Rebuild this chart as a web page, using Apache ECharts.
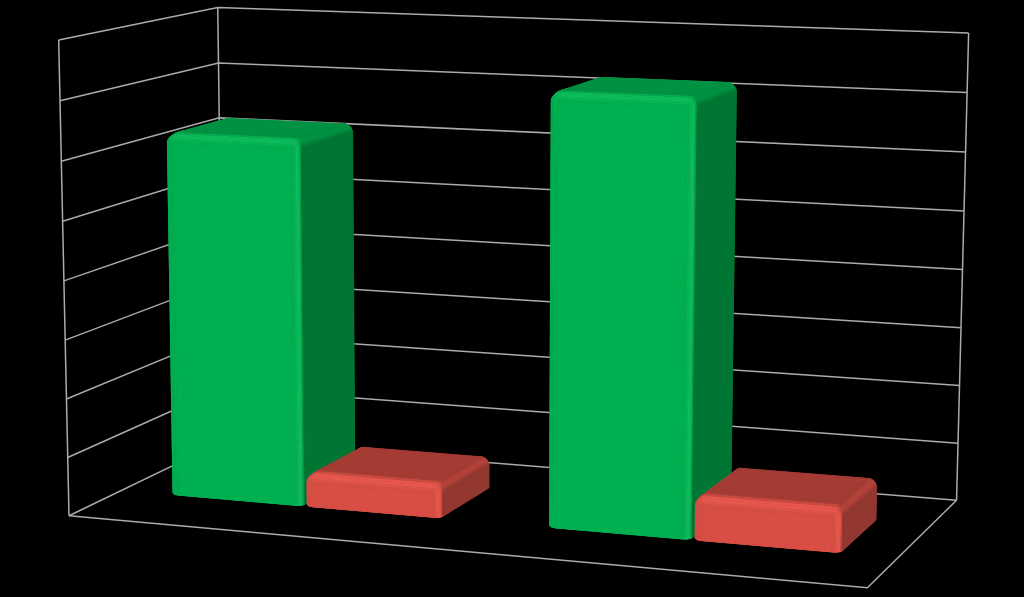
<!DOCTYPE html>
<html><head><meta charset="utf-8">
<style>html,body{margin:0;background:#000}#c{width:1024px;height:597px}</style>
<script src="https://cdn.jsdelivr.net/npm/echarts@6/dist/echarts.min.js"></script></head>
<body><div id="c"></div>
<script>
const categories=['1','2'];
const greenValues=[6.27,7.25];
const redValues=[0.58,0.74];
const gridTicks=[0,1,2,3,4,5,6,7,8];

// Camera calibration: world (X 0..1, Y in axis units, Z 0..1) -> screen
const anchors=[[0,8,0,58,39.5],[0,0,0,70,516],[0,8,1,218.5,8],[0,0,1,222.5,441],[1,8,1,968.5,33],[1,0,1,957,500],[1,0,0,867,588]];
function solve(A,b){const n=b.length;const M=A.map((r,i)=>r.concat(b[i]));for(let c=0;c<n;c++){let p=c;for(let r=c+1;r<n;r++)if(Math.abs(M[r][c])>Math.abs(M[p][c]))p=r;[M[c],M[p]]=[M[p],M[c]];for(let r=0;r<n;r++){if(r===c)continue;const f=M[r][c]/M[c][c];for(let k=c;k<=n;k++)M[r][k]-=f*M[c][k];}}return M.map((r,i)=>r[n]/r[i]);}
function calibrate(){const rows=[],rhs=[];anchors.forEach(([X,Y,Z,u,v])=>{rows.push([X,Y,Z,1,0,0,0,0,-u*X,-u*Y,-u*Z]);rhs.push(u);rows.push([0,0,0,0,X,Y,Z,1,-v*X,-v*Y,-v*Z]);rhs.push(v);});const n=11;const A=[],b=[];for(let i=0;i<n;i++){A.push([]);let s=0;for(let j=0;j<n;j++){let t=0;rows.forEach(r=>t+=r[i]*r[j]);A[i].push(t);}rows.forEach((r,k)=>s+=r[i]*rhs[k]);b.push(s);}return solve(A,b);}
const P=calibrate();
function proj(X,Y,Z){const w=P[8]*X+P[9]*Y+P[10]*Z+1;return [(P[0]*X+P[1]*Y+P[2]*Z+P[3])/w,(P[4]*X+P[5]*Y+P[6]*Z+P[7])/w];}

const W=1024,H=597,YMAX=8;
const BAR_W=0.36,BAR_GAP=0.006,Z0=0.31,Z1=0.70; // bar width and gap as shares of a category band; depth range
const palette={
  green:{front:[0,176,80],side:[0,118,52],top:[0,146,66],back:[0,160,72],hi:[14,190,92]},
  red:{front:[216,78,68],side:[146,56,48],top:[164,60,52],back:[200,74,64],hi:[234,88,78]}
};
const gridColor='#ababab';

function mix(a,b,t){return [a[0]+(b[0]-a[0])*t,a[1]+(b[1]-a[1])*t,a[2]+(b[2]-a[2])*t];}
function shade(c,nx,ny,nz){
  const f=Math.max(0,-nz)**2,s=Math.max(0,nx)**2,t=Math.max(0,ny)**2,b=Math.max(0,nz)**2,l=Math.max(0,-nx)**2;
  const tot=f+s+t+b+l||1;
  let col=[0,1,2].map(i=>(f*c.front[i]+l*c.front[i]+s*c.side[i]+t*c.top[i]+b*c.back[i])/tot);
  col=mix(col,c.hi,Math.min(1,4*f*(s+t)/(tot*tot)));
  col=mix(col,c.back,Math.min(1,4*s*t/(tot*tot))*0.6);
  return 'rgb('+col.map(Math.round).join(',')+')';
}
function roundedBox(c,x0,x1,h,z0,z1){
  const rx=0.011,ry=Math.min(0.16,h*0.28),rz=0.02,extraFront=0.05,extraBack=0.01,rb=Math.min(0.03,h*0.06),seg=6;
  const zm=(z0+z1)/2;
  const ring=[];
  const corners=[[x1-rx,z0+rz,-Math.PI/2],[x1-rx,z1-rz,0],[x0+rx,z1-rz,Math.PI/2],[x0+rx,z0+rz,Math.PI]];
  corners.forEach(([cx,cz,a0])=>{for(let i=0;i<=seg;i++){const a=a0+i/seg*Math.PI/2;ring.push([cx,cz,Math.cos(a),Math.sin(a)]);}});
  const rows=[];
  for(let j=0;j<=seg;j++){const p=-Math.PI/2+j/seg*Math.PI/2;rows.push([rb,rb,p,0]);}
  for(let j=0;j<=seg;j++){const p=j/seg*Math.PI/2;rows.push([h-ry,ry,p,1]);}
  const vert=(k,j)=>{const [cx,cz,nx,nz]=ring[k],[yc,r,p,ex]=rows[j],cp=Math.cos(p),sp=Math.sin(p);
    const inset=ex*(1-cp)*(cz<zm?extraFront:-extraBack);
    return {pt:proj(cx+rx*nx*cp,yc+r*sp,cz+rz*nz*cp+inset),n:[nx*cp,sp,nz*cp]};};
  const out=[];
  const add=(vs,n)=>{
    let area=0;vs.forEach((v,i)=>{const w=vs[(i+1)%vs.length];area+=v[0]*w[1]-w[0]*v[1];});
    if(area>=0)return; // keep faces turned to the camera
    const col=shade(c,n[0],n[1],n[2]);
    out.push({type:'polygon',silent:true,shape:{points:vs},style:{fill:col,stroke:col,lineWidth:0.7}});
  };
  const m=ring.length;
  for(let j=0;j<rows.length-1;j++)for(let k=0;k<m;k++){
    const a=vert(k,j),b=vert((k+1)%m,j),d=vert((k+1)%m,j+1),e=vert(k,j+1);
    add([a.pt,b.pt,d.pt,e.pt],[(a.n[0]+b.n[0]+d.n[0]+e.n[0])/4,(a.n[1]+b.n[1]+d.n[1]+e.n[1])/4,(a.n[2]+b.n[2]+d.n[2]+e.n[2])/4]);
  }
  const cap=[];for(let k=0;k<m;k++)cap.push(vert(k,rows.length-1).pt);
  add(cap,[0,1,0]);
  return out;
}
const toWorldX=px=>px/W;
const toWorldY=py=>(H-py)/H*YMAX;

function renderFrame(params,api){
  const y=toWorldY(api.coord([0,api.value(0)])[1]);
  const stroke={fill:'none',stroke:gridColor,lineWidth:1.5};
  const children=[{type:'polyline',silent:true,shape:{points:[proj(1,y,1),proj(0,y,1),proj(0,y,0)]},style:stroke}];
  if(params.dataIndex===0){
    [[[0,0,0],[1,0,0],[1,0,1]],[[0,0,0],[0,YMAX,0]],[[0,0,1],[0,YMAX,1]],[[1,0,1],[1,YMAX,1]]].forEach(l=>{
      children.push({type:'polyline',silent:true,shape:{points:l.map(q=>proj(q[0],q[1],q[2]))},style:stroke});
    });
  }
  return {type:'group',children};
}
function barRenderer(colorKey,side){
  return function(params,api){
    const cat=api.value(0),val=api.value(1);
    const c=api.coord([cat,val]);
    const band=api.size([1,0])[0];
    const a=toWorldX(c[0]+(side<0?-BAR_W:BAR_GAP)*band),b=toWorldX(c[0]+(side<0?0:BAR_W+BAR_GAP)*band);
    return {type:'group',children:roundedBox(palette[colorKey],a,b,toWorldY(c[1]),Z0,Z1)};
  };
}
const chart=echarts.init(document.getElementById('c'),null,{renderer:'canvas'});
const common={coordinateSystem:'cartesian2d',animation:false,silent:true,clip:false};
chart.setOption({
  backgroundColor:'#000',animation:false,
  grid:{left:0,right:0,top:0,bottom:0},
  xAxis:{type:'category',data:categories,show:false},
  yAxis:{type:'value',min:0,max:YMAX,interval:1,show:false},
  series:[
    Object.assign({type:'custom',name:'grid',z:1,renderItem:renderFrame,encode:{y:0},data:gridTicks.map(t=>[t])},common),
    Object.assign({type:'custom',name:'green0',z:2,renderItem:barRenderer('green',-1),data:[[0,greenValues[0]]]},common),
    Object.assign({type:'custom',name:'red0',z:3,renderItem:barRenderer('red',1),data:[[0,redValues[0]]]},common),
    Object.assign({type:'custom',name:'green1',z:4,renderItem:barRenderer('green',-1),data:[[1,greenValues[1]]]},common),
    Object.assign({type:'custom',name:'red1',z:5,renderItem:barRenderer('red',1),data:[[1,redValues[1]]]},common)
  ]
});
</script></body></html>
